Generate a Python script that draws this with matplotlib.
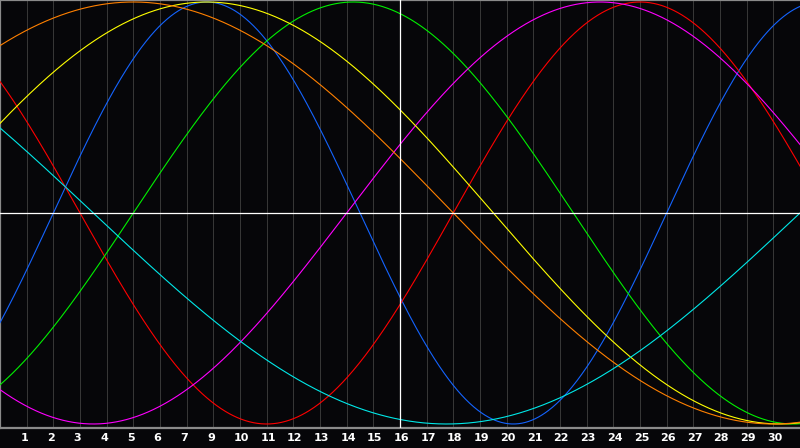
import numpy as np
import matplotlib
matplotlib.use("Agg")
from matplotlib import pyplot as plt

# biorhythm cycles
names = ['physical', 'emotional', 'intellectual', 'intuitive', 'aesthetic', 'awareness', 'spiritual']
periods = [23, 28, 33, 38, 43, 48, 53]
# day of each cycle at the left edge of the chart
start_day = [21, 11, 28, 25, 3, 7, 23]
colors = ['#1464ff', '#ff0000', '#00f000', '#ff00ff', '#ffff00', '#ff8000', '#00e8e8']

n_days = 30
tick_labels = [1, 2, 3, 4, 5, 6, 7, 9, 10, 11, 12, 13, 14, 15, 16, 17, 18, 19, 20,
               21, 22, 23, 24, 25, 26, 27, 28, 29, 30]
today_col = 15

bg = '#060609'
fig = plt.figure(figsize=(8, 4.48), dpi=100, facecolor=bg)
ax = fig.add_axes([0, 20 / 448, 1, 428 / 448])
ax.set_facecolor(bg)

# vertical day grid
for k in range(1, n_days):
    if k == today_col:
        continue
    ax.axvline(k, color='#363636', lw=0.75, zorder=1)
ax.axvline(today_col, color='white', lw=0.9, zorder=5)
ax.axhline(0, color='white', lw=0.9, zorder=5)

d = np.linspace(0, n_days, 1200)
for p, s, c in zip(periods, start_day, colors):
    ax.plot(d, np.sin(2 * np.pi * (s + d) / p), color=c, lw=0.8, zorder=3)

ax.set_xlim(0, n_days)
ax.set_ylim(-1.019, 1.0095)
ax.set_xticks([])
ax.set_yticks([])
for side in ['left', 'top', 'bottom']:
    ax.spines[side].set_color('#8a8a8a')
    ax.spines[side].set_linewidth(1.6)
ax.spines['right'].set_visible(False)

for i, lab in enumerate(tick_labels):
    k = i + 1
    t = str(lab)
    off = -0.09 if len(t) == 1 else 0.05
    ax.text(k + off, -0.024, t, transform=ax.get_xaxis_transform(),
            ha='center', va='center', color='white', fontsize=8,
            fontweight='bold', family='DejaVu Sans', clip_on=False)

fig.savefig('out.png', dpi=100, facecolor=bg)
